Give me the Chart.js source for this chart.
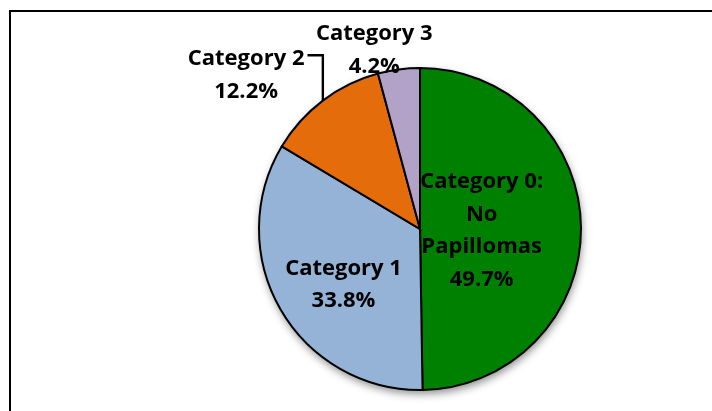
<!DOCTYPE html>
<html>
<head>
<meta charset="utf-8">
<script src="https://cdn.jsdelivr.net/npm/chart.js@4"></script>
<style>
  html, body { margin: 0; padding: 0; background: #ffffff; }
  #wrap { position: relative; width: 712px; height: 411px; overflow: hidden; }
  #frame { position: absolute; left: 9px; top: 10px; width: 800px; height: 500px;
           border-left: 2px solid #000; border-top: 2px solid #000; box-sizing: border-box; }
  canvas { position: absolute; left: 0; top: 0; }
</style>
</head>
<body>
<div id="wrap">
  <div id="frame"></div>
  <canvas id="c" width="712" height="411"></canvas>
</div>
<script>
// ---- data ----
const categories = ["Category 0: No Papillomas", "Category 1", "Category 2", "Category 3"];
const labelLines = [["Category 0:", "No", "Papillomas"], ["Category 1"], ["Category 2"], ["Category 3"]];
const percentages = [49.7, 33.8, 12.2, 4.2];
const sliceColors = ["#008000", "#95B3D7", "#E46C0A", "#B3A2C7"];

// label placement in units of radius, relative to pie centre
const labelPlacement = [
  { dx: 0.383, dy: 0.0 },
  { dx: -0.475, dy: 0.336 },
  { dx: -1.080, dy: -0.966, leader: true },
  { dx: -0.284, dy: -1.120 }
];

const FONT = "bold 22px 'Open Sans', 'Liberation Sans', sans-serif";
const LINE_H = 32.5;
const CAP = 16;

const shadowPlugin = {
  id: 'pieShadow',
  beforeDatasetsDraw(chart) {
    const arc = chart.getDatasetMeta(0).data[0];
    if (!arc) return;
    const ctx = chart.ctx;
    ctx.save();
    ctx.shadowColor = 'rgba(0,0,0,0.45)';
    ctx.shadowBlur = 8;
    ctx.shadowOffsetX = 1;
    ctx.shadowOffsetY = 4;
    ctx.beginPath();
    ctx.arc(arc.x, arc.y, arc.outerRadius, 0, Math.PI * 2);
    ctx.fillStyle = '#ffffff';
    ctx.fill();
    ctx.restore();
  }
};

const labelPlugin = {
  id: 'sliceLabels',
  afterDatasetsDraw(chart) {
    const meta = chart.getDatasetMeta(0);
    const ctx = chart.ctx;
    ctx.save();
    ctx.font = FONT;
    ctx.fillStyle = '#000';
    ctx.textAlign = 'center';
    ctx.textBaseline = 'alphabetic';
    meta.data.forEach((arc, i) => {
      const r = arc.outerRadius;
      const p = labelPlacement[i];
      const cx = arc.x + p.dx * r;
      const cy = arc.y + p.dy * r;
      const lines = labelLines[i].concat([percentages[i].toFixed(1) + '%']);
      const n = lines.length;
      lines.forEach((t, k) => {
        const by = cy - (n - 1) * LINE_H / 2 + k * LINE_H + CAP / 2;
        ctx.fillText(t, cx, by);
      });
      if (p.leader) {
        const mid = (arc.startAngle + arc.endAngle) / 2;
        const ex = arc.x + Math.cos(mid) * r;
        const ey = arc.y + Math.sin(mid) * r;
        const firstW = ctx.measureText(lines[0]).width;
        const ly = cy - (n - 1) * LINE_H / 2 - 2;
        ctx.beginPath();
        ctx.strokeStyle = '#000';
        ctx.lineWidth = 2.4;
        ctx.moveTo(cx + firstW / 2 + 3, ly);
        ctx.lineTo(ex, ly);
        ctx.lineTo(ex, ey);
        ctx.stroke();
      }
    });
    ctx.restore();
  }
};

new Chart(document.getElementById('c'), {
  type: 'pie',
  data: {
    labels: categories,
    datasets: [{
      data: percentages,
      backgroundColor: sliceColors,
      borderColor: '#000000',
      borderWidth: 2,
      borderJoinStyle: 'miter'
    }]
  },
  options: {
    responsive: false,
    animation: false,
    layout: { padding: { left: 258, right: 130, top: 67, bottom: 20 } },
    plugins: { legend: { display: false }, tooltip: { enabled: false } }
  },
  plugins: [shadowPlugin, labelPlugin]
});
</script>
</body>
</html>
